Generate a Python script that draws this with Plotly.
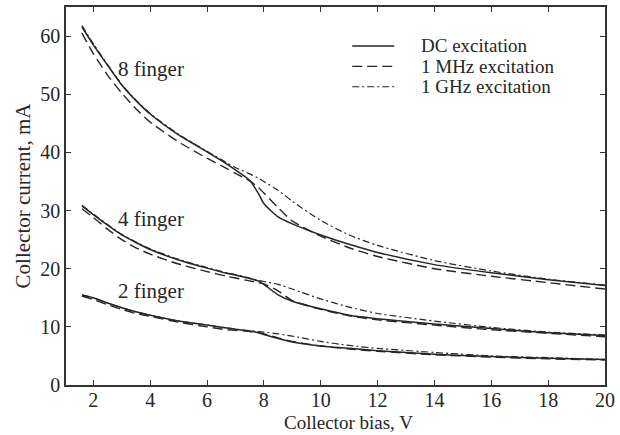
import plotly.graph_objects as go

x_bias = [1.6, 2, 2.5, 3, 3.5, 4, 5, 6, 6.7, 7, 7.5, 7.8, 8, 8.5, 9, 10, 11, 12, 14, 16, 18, 20]

f8_dc = [61.6, 58.5, 55.0, 51.6, 48.9, 46.6, 43.0, 40.1, 38.0, 37.0, 35.2, 33.0, 31.2, 28.9, 27.7, 25.8, 24.2, 22.8, 20.7, 19.3, 18.1, 17.1]
f8_mhz = [60.5, 57.0, 53.3, 50.2, 47.5, 45.2, 41.8, 39.0, 37.2, 36.4, 35.1, 34.0, 33.0, 30.5, 28.2, 25.6, 23.6, 22.1, 20.0, 18.7, 17.6, 16.5]
f8_ghz = [61.8, 58.7, 55.1, 51.7, 49.0, 46.7, 43.1, 40.2, 38.2, 37.4, 36.3, 35.6, 35.0, 33.5, 31.6, 28.3, 25.8, 24.0, 21.4, 19.6, 18.2, 17.2]

f4_dc = [30.8, 29.3, 27.5, 25.8, 24.5, 23.3, 21.5, 20.1, 19.2, 18.9, 18.3, 17.9, 17.3, 15.5, 14.4, 13.1, 12.0, 11.4, 10.5, 9.7, 9.0, 8.5]
f4_mhz = [30.3, 28.8, 26.8, 25.0, 23.6, 22.5, 20.8, 19.5, 18.7, 18.4, 17.9, 17.6, 17.4, 16.2, 14.5, 13.0, 11.9, 11.2, 10.3, 9.5, 8.9, 8.3]
f4_ghz = [30.9, 29.4, 27.6, 25.9, 24.6, 23.4, 21.6, 20.2, 19.3, 19.0, 18.4, 18.0, 17.8, 17.3, 16.5, 14.8, 13.4, 12.3, 11.0, 9.9, 9.1, 8.6]

f2_dc = [15.5, 15.0, 14.1, 13.3, 12.6, 12.0, 11.0, 10.3, 9.8, 9.6, 9.3, 9.0, 8.7, 8.0, 7.4, 6.7, 6.3, 5.9, 5.3, 4.9, 4.6, 4.4]
f2_mhz = [15.3, 14.7, 13.8, 13.0, 12.3, 11.8, 10.8, 10.0, 9.5, 9.4, 9.2, 9.0, 8.8, 8.1, 7.5, 6.7, 6.2, 5.8, 5.2, 4.8, 4.5, 4.3]
f2_ghz = [15.5, 15.0, 14.1, 13.3, 12.6, 12.0, 11.0, 10.3, 9.8, 9.6, 9.3, 9.2, 9.1, 8.8, 8.4, 7.5, 6.8, 6.3, 5.6, 5.0, 4.7, 4.4]

series_names = ["DC excitation", "1 MHz excitation", "1 GHz excitation"]
finger_labels = ["8 finger", "4 finger", "2 finger"]
finger_label_x = [2.8, 2.8, 2.8]
finger_label_y = [54.4, 28.5, 16.2]

x_ticks = [2, 4, 6, 8, 10, 12, 14, 16, 18, 20]
y_ticks = [0, 10, 20, 30, 40, 50, 60]

INK = "#262626"
FONT = "Liberation Serif"
dashes = ["solid", "10px,5px", "7px,3px,2px,3px"]
widths = [1.5, 1.4, 1.2]

fig = go.Figure()
groups = [(f8_dc, f8_mhz, f8_ghz), (f4_dc, f4_mhz, f4_ghz), (f2_dc, f2_mhz, f2_ghz)]
for grp in groups:
    for k, ys in enumerate(grp):
        fig.add_trace(go.Scatter(
            x=x_bias, y=ys, mode="lines",
            line=dict(color=INK, width=widths[k], dash=dashes[k], shape="spline", smoothing=0.6),
            showlegend=False, hoverinfo="skip"))

for t, xx, yy in zip(finger_labels, finger_label_x, finger_label_y):
    fig.add_annotation(x=xx, y=yy, text=t, showarrow=False, xanchor="left", yanchor="middle",
                       font=dict(family=FONT, size=21, color=INK))

# manual legend
leg_y = [0.897, 0.843, 0.789]
for k, name in enumerate(series_names):
    fig.add_shape(type="line", xref="paper", yref="paper", x0=0.531, x1=0.609, y0=leg_y[k], y1=leg_y[k],
                  line=dict(color=INK, width=widths[k], dash=dashes[k]))
    fig.add_annotation(xref="paper", yref="paper", x=0.655, y=leg_y[k], text=name, showarrow=False,
                       xanchor="left", yanchor="middle", font=dict(family=FONT, size=19, color=INK))

fig.add_annotation(xref="paper", yref="paper", x=0.524, y=0, yshift=-50, text="Collector bias, V",
                   showarrow=False, xanchor="center", yanchor="bottom", font=dict(family=FONT, size=19, color=INK))

axis_common = dict(showline=True, linecolor="#333", linewidth=1.5, mirror="ticks", ticks="inside",
                   ticklen=5, tickwidth=1, tickcolor="#333", showgrid=False, zeroline=False,
                   tickfont=dict(family=FONT, size=20, color=INK))

fig.update_xaxes(range=[1.04, 20], tickvals=x_ticks, ticklabelstandoff=-4, **axis_common)
fig.update_yaxes(range=[0, 65], tickvals=y_ticks, title=dict(text="Collector current, mA", standoff=4,
                 font=dict(family=FONT, size=21, color=INK)), **axis_common)

fig.update_layout(width=620, height=435, margin=dict(l=66, r=15, t=5, b=50),
                  plot_bgcolor="white", paper_bgcolor="white", showlegend=False)

fig.write_html("out.html")
